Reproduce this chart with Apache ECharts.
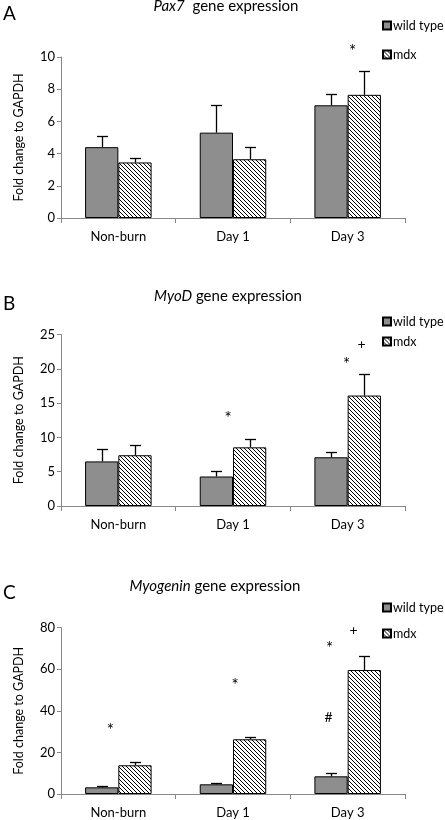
<!DOCTYPE html>
<html><head><meta charset="utf-8">
<script src="https://cdn.jsdelivr.net/npm/echarts@6/dist/echarts.min.js"></script>
<style>html,body{margin:0;padding:0;background:#fff}#c{width:445px;height:820px}</style>
</head><body><div id="c"></div>
<script>
// ---------------- data ----------------
const categories = ['Non-burn', 'Day 1', 'Day 3'];
const seriesNames = ['wild type', 'mdx'];

const pax7WT = [4.4, 5.3, 7.0];
const pax7WTErr = [0.7, 1.7, 0.7];
const pax7MDX = [3.45, 3.65, 7.65];
const pax7MDXErr = [0.3, 0.75, 1.5];

const myodWT = [6.5, 4.3, 7.1];
const myodWTErr = [1.75, 0.75, 0.75];
const myodMDX = [7.4, 8.55, 16.1];
const myodMDXErr = [1.45, 1.15, 3.2];

const myogWT = [3.2, 4.65, 8.5];
const myogWTErr = [0.5, 0.45, 1.45];
const myogMDX = [13.8, 26.3, 59.6];
const myogMDXErr = [1.4, 0.9, 6.6];

// significance marks: category index, y value, symbol
const pax7Marks = [[2, 10.6, '*']];
const myodMarks = [[1, 13.3, '*'], [2, 21.2, '*'], [2, 23.6, '+']];
const myogMarks = [[0, 32.4, '*'], [1, 54, '*'], [2, 72, '*'], [2, 78.8, '+'], [2, 36.9, '#']];

const pax7Ticks = {max: 10, interval: 2};
const myodTicks = {max: 25, interval: 5};
const myogTicks = {max: 80, interval: 20};

// ---------------- layout / style ----------------
const FONT = 'Lato';
const markDx = [[5], [-5, -1, 14], [-8, 2, -18, 6, -19]];
const grids = [
  {left: 61, width: 344, top: 57, height: 161},
  {left: 61, width: 344, top: 334.5, height: 171.5},
  {left: 61, width: 344, top: 627.6, height: 166.4}
];
const CAT_GAP = 0.42;

function hatch() {
  const s = 4;
  const cv = document.createElement('canvas');
  cv.width = s; cv.height = s;
  const g = cv.getContext('2d');
  g.fillStyle = '#fff'; g.fillRect(0, 0, s, s);
  g.strokeStyle = '#000'; g.lineWidth = 1;
  g.beginPath();
  g.moveTo(-1, -1); g.lineTo(s + 1, s + 1);
  g.moveTo(-1, s - 1); g.lineTo(1, s + 1);
  g.moveTo(s - 1, -1); g.lineTo(s + 1, 1);
  g.stroke();
  return {image: cv, repeat: 'repeat'};
}
const hatchFill = hatch();
const wtColor = '#8e8e8e';

const panels = [
  {letter: 'A', gene: 'Pax7', sep: '  ', wt: pax7WT, wtE: pax7WTErr, mdx: pax7MDX, mdxE: pax7MDXErr, marks: pax7Marks, ticks: pax7Ticks,
   titleY: -1, letterY: 4, titleX: 226, legendTop: 19, legendGap: 16},
  {letter: 'B', gene: 'MyoD', sep: ' ', wt: myodWT, wtE: myodWTErr, mdx: myodMDX, mdxE: myodMDXErr, marks: myodMarks, ticks: myodTicks,
   titleY: 289, letterY: 294, titleX: 228, legendTop: 315, legendGap: 7},
  {letter: 'C', gene: 'Myogenin', sep: ' ', wt: myogWT, wtE: myogWTErr, mdx: myogMDX, mdxE: myogMDXErr, marks: myogMarks, ticks: myogTicks,
   titleY: 579, letterY: 583, titleX: 215, legendTop: 601, legendGap: 13}
];

const option = {
  animation: false,
  backgroundColor: '#fff',
  textStyle: {fontFamily: FONT},
  title: [], legend: [], grid: [], xAxis: [], yAxis: [], series: []
};

function errSeries(pi, vals, errs, side) {
  return {
    type: 'custom', xAxisIndex: pi, yAxisIndex: pi, silent: true, z: 5,
    data: vals.map((v, i) => [i, v, errs[i]]),
    renderItem: function (params, api) {
      const i = api.value(0), v = api.value(1), e = api.value(2);
      const c = api.coord([i, v]);
      const band = api.size([1, 0])[0];
      const x = Math.round(c[0] + side * band * (1 - CAT_GAP) / 4) + 0.5;
      const y0 = c[1];
      const y1 = Math.round(api.coord([i, v + e])[1]) + 0.5;
      const st = {stroke: '#000', lineWidth: 1.3};
      return {type: 'group', children: [
        {type: 'line', shape: {x1: x, y1: y0, x2: x, y2: y1}, style: st},
        {type: 'line', shape: {x1: x - 5.5, y1: y1, x2: x + 5.5, y2: y1}, style: st}
      ]};
    }
  };
}

panels.forEach((p, pi) => {
  option.title.push({
    text: p.letter, left: 3, top: p.letterY, padding: 0,
    textStyle: {fontFamily: FONT, fontSize: 19, fontWeight: 'normal', color: '#000'}
  });
  option.title.push({
    text: '{i|' + p.gene + '}' + p.sep + 'gene expression', left: p.titleX, top: p.titleY, padding: 0, textAlign: 'center',
    textStyle: {fontFamily: FONT, fontSize: 15, fontWeight: 'normal', color: '#000',
      rich: {i: {fontFamily: FONT, fontSize: 15, fontStyle: 'italic', color: '#000'}}}
  });
  option.legend.push({
    data: seriesNames, orient: 'vertical', left: 382, top: p.legendTop, padding: 0,
    icon: 'rect', itemWidth: 8, itemHeight: 8, itemGap: p.legendGap, selectedMode: false,
    textStyle: {fontFamily: FONT, fontSize: 12.5, color: '#000', padding: [0, 0, 0, -3]}
  });
  option.grid.push(Object.assign({outerBoundsMode: 'none', containLabel: false}, grids[pi]));
  option.xAxis.push({
    type: 'category', gridIndex: pi, data: categories,
    axisLine: {lineStyle: {color: '#888', width: 1}},
    axisTick: {show: true, length: 5, lineStyle: {color: '#888'}},
    axisLabel: {fontFamily: FONT, fontSize: 13, color: '#000', margin: 12},
    splitLine: {show: false}
  });
  option.yAxis.push({
    type: 'value', gridIndex: pi, min: 0, max: p.ticks.max, interval: p.ticks.interval,
    name: 'Fold change to GAPDH', nameLocation: 'middle', nameGap: 36,
    nameTextStyle: {fontFamily: FONT, fontSize: 12.5, color: '#000'},
    axisLine: {show: true, lineStyle: {color: '#888', width: 1}},
    axisTick: {show: true, length: 4, lineStyle: {color: '#888'}},
    axisLabel: {fontFamily: FONT, fontSize: 13, color: '#000', margin: 6},
    splitLine: {show: false}
  });
  option.series.push({
    name: seriesNames[0], type: 'bar', xAxisIndex: pi, yAxisIndex: pi, data: p.wt,
    barGap: '0%', barCategoryGap: (CAT_GAP * 100) + '%',
    itemStyle: {color: wtColor, borderColor: '#000', borderWidth: 1}
  });
  option.series.push({
    name: seriesNames[1], type: 'bar', xAxisIndex: pi, yAxisIndex: pi, data: p.mdx,
    barGap: '0%', barCategoryGap: (CAT_GAP * 100) + '%',
    itemStyle: {color: hatchFill, borderColor: '#000', borderWidth: 1}
  });
  option.series.push(errSeries(pi, p.wt, p.wtE, -1));
  option.series.push(errSeries(pi, p.mdx, p.mdxE, 1));
  const dx = markDx[pi];
  option.series.push({
    type: 'custom', xAxisIndex: pi, yAxisIndex: pi, silent: true, clip: false, z: 6,
    data: p.marks.map((m, k) => [m[0], m[1], k]),
    renderItem: function (params, api) {
      const k = api.value(2);
      const c = api.coord([api.value(0), api.value(1)]);
      const t = p.marks[k][2];
      const star = t === '*';
      return {type: 'text', x: c[0] + dx[k], y: c[1] + (star ? 4 : 0),
        style: {text: t, fill: '#000', font: (star ? 17 : 14) + 'px ' + FONT, align: 'center', verticalAlign: 'middle'}};
    }
  });
});

const chart = echarts.init(document.getElementById('c'), null, {renderer: 'canvas'});
chart.setOption(option);
</script></body></html>
